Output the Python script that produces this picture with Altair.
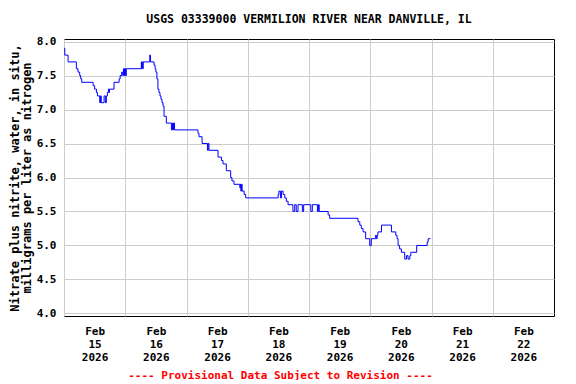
import json
import altair as alt
import pandas as pd

# ---- data (hours after Feb 15 2026 00:00, value at that step) ----
hours = [0.0, 0.3, 1.6, 4.85, 5.5, 6.15, 6.55, 6.95, 11.4, 12.0, 12.7, 13.1, 14.0, 14.3,
         14.6, 15.7, 16.2, 16.6, 17.0, 17.4, 17.6, 17.8, 19.6, 21.6, 22.0, 22.6, 23.0,
         23.3, 23.7, 24.0, 24.2, 24.4, 30.3, 30.5, 30.7, 30.9, 31.0, 33.6, 33.9, 35.3,
         35.7, 36.0, 36.4, 36.8, 37.2, 37.6, 38.0, 38.4, 38.8, 39.2, 40.1, 42.1, 42.5,
         42.8, 43.0, 43.3, 52.5, 52.9, 54.1, 56.2, 56.5, 56.8, 60.35, 61.7, 62.3, 63.6,
         65.3, 65.8, 66.6, 68.9, 69.1, 69.3, 69.5, 69.8, 70.6, 71.2, 83.9, 84.2, 84.8,
         85.2, 85.85, 86.5, 87.1, 87.8, 89.7, 90.4, 91.0, 91.7, 93.4, 93.9, 96.7, 97.3,
         99.3, 99.7, 100.0, 103.5, 104.1, 115.2, 115.9, 116.5, 117.2, 118.2, 119.8,
         120.4, 122.1, 122.4, 122.7, 123.0, 124.4, 128.3, 130.0, 130.5, 130.9, 131.5,
         132.2, 133.5, 134.2, 134.8, 135.5, 135.9, 138.2, 142.3, 142.7, 143.6]
values = [7.9, 7.8, 7.7, 7.6, 7.55, 7.5, 7.45, 7.4, 7.35, 7.3, 7.25, 7.2, 7.1, 7.2,
          7.1, 7.2, 7.1, 7.2, 7.25, 7.3, 7.25, 7.3, 7.4, 7.45, 7.5, 7.55, 7.5,
          7.6, 7.5, 7.6, 7.5, 7.6, 7.7, 7.6, 7.7, 7.6, 7.7, 7.8, 7.7, 7.65,
          7.6, 7.55, 7.45, 7.3, 7.25, 7.2, 7.15, 7.1, 7.05, 6.9, 6.8, 6.7, 6.8,
          6.7, 6.8, 6.7, 6.65, 6.6, 6.5, 6.4, 6.5, 6.4, 6.3, 6.25, 6.2, 6.1,
          6.0, 5.95, 5.9, 5.85, 5.9, 5.8, 5.9, 5.8, 5.75, 5.7, 5.75, 5.8, 5.7,
          5.8, 5.75, 5.7, 5.65, 5.6, 5.5, 5.6, 5.5, 5.6, 5.5, 5.6, 5.5, 5.6,
          5.5, 5.6, 5.5, 5.45, 5.4, 5.35, 5.3, 5.25, 5.2, 5.1, 5.0,
          5.1, 5.15, 5.1, 5.15, 5.2, 5.3, 5.2, 5.15, 5.1, 5.0, 4.95,
          4.9, 4.8, 4.85, 4.8, 4.85, 4.9, 5.0, 5.05, 5.1, 5.1]

day_labels = ["15", "16", "17", "18", "19", "20", "21", "22"]
month_label = "Feb"
year_label = "2026"
x_tick_hours = [0, 24, 48, 72, 96, 120, 144, 168]
y_ticks = [4.0, 4.5, 5.0, 5.5, 6.0, 6.5, 7.0, 7.5, 8.0]

title_text = "USGS 03339000 VERMILION RIVER NEAR DANVILLE, IL"
y_title = ["Nitrate plus nitrite, water, in situ,", "milligrams per liter as nitrogen"]
note_text = "---- Provisional Data Subject to Revision ----"

FONT = "DejaVu Sans Mono"

df = pd.DataFrame({"hour": hours, "value": values})

label_expr = "['%s', %s[round(datum.value / 24)], '%s']" % (
    month_label, json.dumps(day_labels), year_label)

x_axis = alt.Axis(
    values=x_tick_hours, labelExpr=label_expr, grid=True, gridColor="#cccccc",
    ticks=False, domain=False, labelOffset=30.6, labelPadding=9, labelLineHeight=13,
    labelFont=FONT, labelFontWeight="bold", labelFontSize=11, labelColor="black",
    labelFlush=False, labelOverlap=False, labelBaseline="top",
    title=note_text, titleColor="#ff0000", titleFont=FONT, titleFontWeight="bold",
    titleFontSize=11, titleX=216, titleY=59, titleBaseline="middle", titleAnchor="middle",
)
y_axis = alt.Axis(
    values=y_ticks, format=".1f", grid=True, gridColor="#cccccc", ticks=False,
    domain=False, labelPadding=8, labelFont=FONT, labelFontWeight="bold",
    labelFontSize=11, labelColor="black",
    title=y_title, titleFont=FONT, titleFontWeight="bold", titleFontSize=12,
    titleColor="black", titleLineHeight=12, titleX=-43, titleBaseline="bottom",
)

chart = alt.Chart(df).mark_line(
    interpolate="step-after", color="#0000ff", strokeWidth=1, clip=True
).encode(
    x=alt.X("hour:Q", scale=alt.Scale(domain=[0, 192], nice=False, zero=False), axis=x_axis),
    y=alt.Y("value:Q", scale=alt.Scale(domain=[3.963, 8.037], nice=False, zero=False), axis=y_axis),
).properties(
    width=490, height=277,
    title=alt.TitleParams(title_text, font=FONT, fontSize=11.5, fontWeight="bold",
                          color="black", anchor="middle", offset=10),
    autosize=alt.AutoSizeParams(type="none"),
    padding={"left": 56, "top": 31, "right": 12, "bottom": 64},
).configure_view(stroke="black", strokeWidth=1)

chart.save("out.html", embed_options={"renderer": "svg", "actions": False})
